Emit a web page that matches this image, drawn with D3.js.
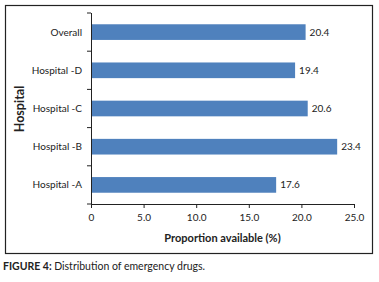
<!DOCTYPE html>
<html><head><meta charset="utf-8">
<script src="https://cdn.jsdelivr.net/npm/d3@7"></script>
<style>
body{margin:0;background:#fff;}
text{font-family:Lato,"Open Sans",sans-serif;fill:#222;}
</style></head>
<body><svg id="c" width="379" height="282"></svg>
<script>
const categories = ["Hospital -A","Hospital -B","Hospital -C","Hospital -D","Overall"];
const values = [17.6, 23.4, 20.6, 19.4, 20.4];
const xTicks = [0,5,10,15,20,25];

const svg = d3.select("#c");
const m = {left:91, right:354, top:13, bottom:204};

svg.append("rect").attr("x",5.5).attr("y",5.5).attr("width",367).attr("height",248)
  .attr("fill","none").attr("stroke","#222").attr("stroke-width",1.2);

const x = d3.scaleLinear().domain([0,25]).range([m.left,m.right]);
const y = d3.scaleBand().domain(categories.slice().reverse()).range([m.top,m.bottom]).paddingInner(0.59).paddingOuter(0.295);

svg.selectAll("rect.bar").data(categories).join("rect").attr("class","bar")
  .attr("x",x(0)).attr("y",d=>y(d)).attr("width",(d,i)=>x(values[i])-x(0)).attr("height",y.bandwidth())
  .attr("fill","#4f81bd");

svg.selectAll("text.val").data(categories).join("text").attr("class","val")
  .attr("x",(d,i)=>x(values[i])+4).attr("y",d=>y(d)+y.bandwidth()/2).attr("dy","0.35em")
  .attr("font-size",10).text((d,i)=>values[i].toFixed(1));

const xa = svg.append("g").attr("transform",`translate(0,${m.bottom})`)
  .call(d3.axisBottom(x).tickValues(xTicks).tickSize(4).tickSizeOuter(0).tickFormat(d=>d===0?"0":d.toFixed(1)));
xa.select(".domain").attr("stroke","#222");
xa.selectAll(".tick line").attr("stroke","#222");
xa.selectAll("text").attr("font-size",10).attr("dy","0.71em").attr("y",10).attr("fill","#222").style("font-family","Lato");

const ya = svg.append("g");
ya.append("line").attr("x1",m.left+0.5).attr("x2",m.left+0.5).attr("y1",m.top).attr("y2",m.bottom).attr("stroke","#222");
const bounds = d3.range(categories.length+1).map(i=>m.top+i*(m.bottom-m.top)/categories.length);
ya.selectAll("line.t").data(bounds).join("line").attr("class","t")
  .attr("x1",m.left-4).attr("x2",m.left).attr("y1",d=>d).attr("y2",d=>d).attr("stroke","#222");
ya.selectAll("text").data(categories).join("text")
  .attr("x",m.left-9).attr("y",d=>y(d)+y.bandwidth()/2).attr("dy","0.35em")
  .attr("text-anchor","end").attr("font-size",10).text(d=>d);

svg.append("text").attr("x",(m.left+m.right)/2).attr("y",242).attr("text-anchor","middle")
  .attr("font-size",11).attr("font-weight","bold").text("Proportion available (%)");
svg.append("text").attr("transform","translate(24,109) rotate(-90)").attr("text-anchor","middle")
  .attr("font-size",12.5).attr("font-weight","bold").text("Hospital");

const cap = svg.append("text").attr("x",3).attr("y",270).attr("font-size",10.5);
cap.append("tspan").attr("font-weight","bold").text("FIGURE 4: ");
cap.append("tspan").text("Distribution of emergency drugs.");
</script></body></html>
